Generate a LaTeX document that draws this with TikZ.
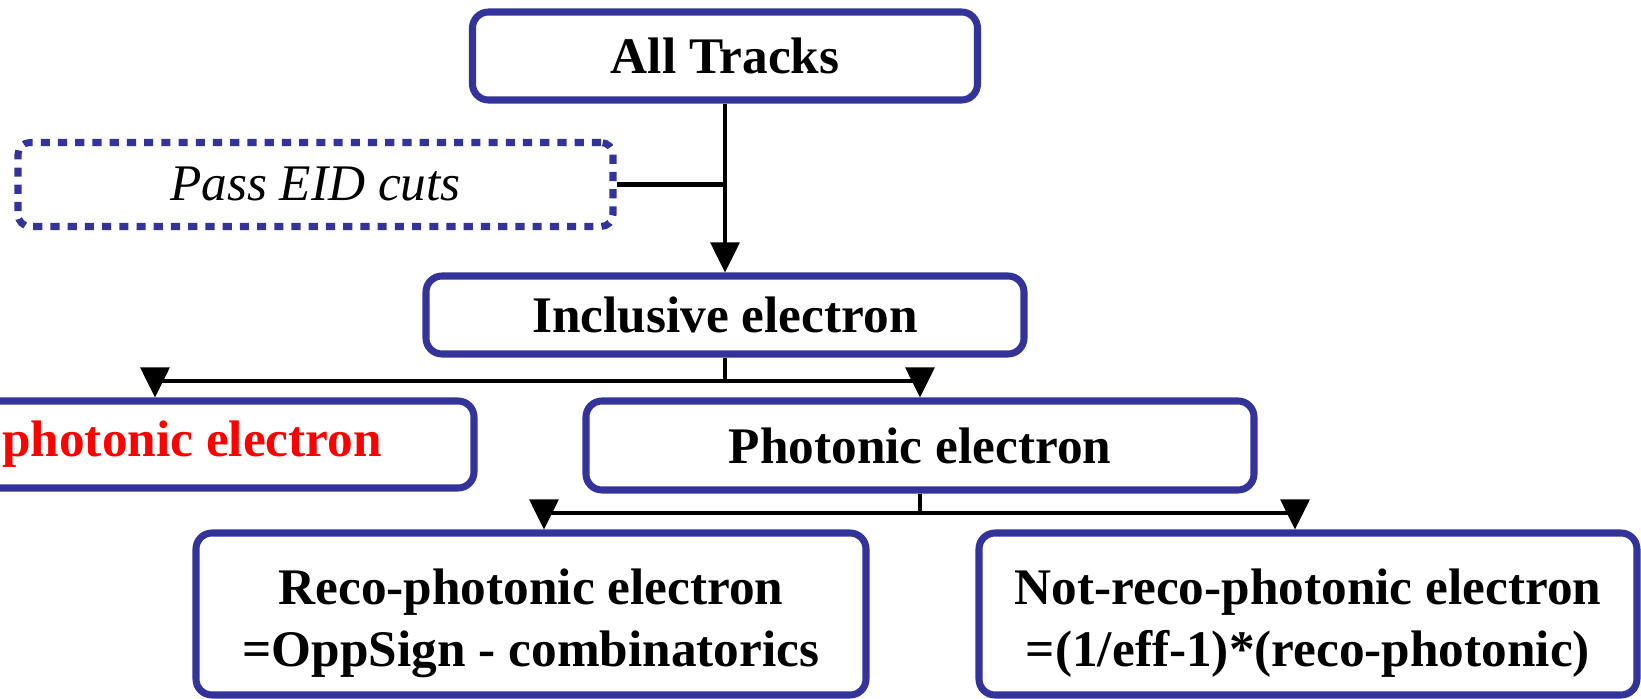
\documentclass[tikz,border=0pt]{standalone}
\usepackage{fontspec}
\setmainfont{Liberation Serif}
\usepackage{xcolor}
\usepackage{tikz}
\usetikzlibrary{arrows.meta}
\definecolor{boxblue}{RGB}{51,51,153}

\begin{document}
\begin{tikzpicture}[
        box/.style={draw=boxblue, line width=2pt, rounded corners=0.16cm, inner sep=0pt,
            font=\fontsize{14.6}{17.6}\selectfont\bfseries},
        cutbox/.style={draw=boxblue, line width=2pt, dash pattern=on 2.6pt off 2.3pt,
            rounded corners=0.12cm, inner sep=0pt, font=\fontsize{14.6}{17.6}\selectfont\itshape},
        link/.style={line width=1.2pt},
        arr/.style={link, -{Triangle[width=8.2pt,length=8.6pt]}}]
        \useasboundingbox (0,0) rectangle (16.41,-6.99);
        % Top level
        \node[box, minimum width=5.05cm, minimum height=0.88cm] (tracks) at (7.25,-0.56) {All Tracks};
        \node[cutbox, minimum width=5.95cm, minimum height=0.84cm] (eid) at (3.155,-1.845) {Pass EID cuts};
        % Level 2
        \node[box, minimum width=5.98cm, minimum height=0.78cm] (incl) at (7.25,-3.15) {Inclusive electron};
        % Level 3
        \node[box, minimum width=5.64cm, minimum height=0.87cm, text=red] (nonpho) at (1.92,-4.445) {photonic electron};
        \node[box, minimum width=6.68cm, minimum height=0.89cm] (pho) at (9.2,-4.455) {Photonic electron};
        % Level 4
        \node[box, minimum width=6.7cm, minimum height=1.62cm, align=center] (reco) at (5.31,-6.14)
            {\rule{0pt}{15.5pt}Reco-photonic electron\\=OppSign - combinatorics};
        \node[box, minimum width=6.58cm, minimum height=1.62cm, align=center] (notreco) at (13.08,-6.14)
            {\rule{0pt}{15.5pt}Not-reco-photonic electron\\=(1/eff-1)*(reco-photonic)};
        % Edges
        \coordinate (cutjoin) at (tracks.south |- eid.east);
        \coordinate (split1) at (7.25,-3.81);
        \coordinate (split2) at (9.2,-5.13);
        \draw[link] (eid.east) -- (cutjoin);
        \draw[arr] (tracks.south) -- (incl.north);
        \draw[link] (incl.south) -- (split1);
        \draw[arr] (split1) -| ([xshift=-0.37cm]nonpho.north);
        \draw[arr] (split1) -| (pho.north);
        \draw[link] (pho.south) -- (split2);
        \draw[arr] (split2) -| ([xshift=0.13cm]reco.north);
        \draw[arr] (split2) -| ([xshift=-0.13cm]notreco.north);
    \end{tikzpicture}
\end{document}
